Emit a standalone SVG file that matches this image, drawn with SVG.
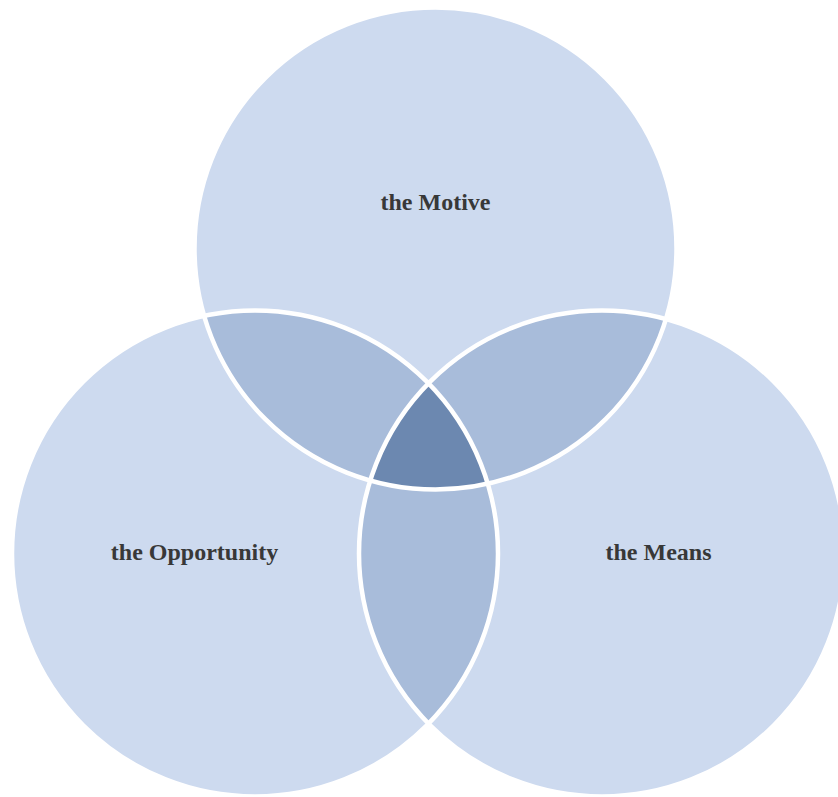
<svg xmlns="http://www.w3.org/2000/svg" width="838" height="797" viewBox="0 0 838 797">
  <style>
    .base { fill: #CDDAEF; }
    .pair { fill: #A8BCDA; }
    .core { fill: #6C88B0; }
    .rim { fill: none; stroke: #FFFFFF; stroke-width: 4.5; }
    .label { font-family: "Liberation Serif", "Times New Roman", serif; font-weight: bold; font-size: 24px; fill: #383838; text-anchor: middle; }
  </style>
  <defs>
    <circle id="shapeTop" cx="435.5" cy="248.5" r="241"/>
    <circle id="shapeLeft" cx="255" cy="553.5" r="243"/>
    <circle id="shapeRight" cx="602" cy="553.5" r="243"/>
    <clipPath id="clipTop"><use href="#shapeTop"/></clipPath>
    <clipPath id="clipLeft"><use href="#shapeLeft"/></clipPath>
    <clipPath id="clipRight"><use href="#shapeRight"/></clipPath>
  </defs>

  <!-- circle fills -->
  <g id="motive">
    <use href="#shapeTop" class="base"/>
  </g>
  <g id="opportunity">
    <use href="#shapeLeft" class="base"/>
  </g>
  <g id="means">
    <use href="#shapeRight" class="base"/>
  </g>

  <!-- two-way overlaps -->
  <g id="overlaps">
    <g clip-path="url(#clipTop)"><use href="#shapeLeft" class="pair"/></g>
    <g clip-path="url(#clipTop)"><use href="#shapeRight" class="pair"/></g>
    <g clip-path="url(#clipLeft)"><use href="#shapeRight" class="pair"/></g>
    <!-- three-way centre -->
    <g clip-path="url(#clipTop)"><g clip-path="url(#clipLeft)"><use href="#shapeRight" class="core"/></g></g>
  </g>

  <!-- white outlines on top of all fills -->
  <g id="outlines">
    <use href="#shapeTop" class="rim"/>
    <use href="#shapeLeft" class="rim"/>
    <use href="#shapeRight" class="rim"/>
  </g>

  <g id="labels">
    <text class="label" x="435.5" y="210">the Motive</text>
    <text class="label" x="194.5" y="560">the Opportunity</text>
    <text class="label" x="658.5" y="560">the Means</text>
  </g>
</svg>
